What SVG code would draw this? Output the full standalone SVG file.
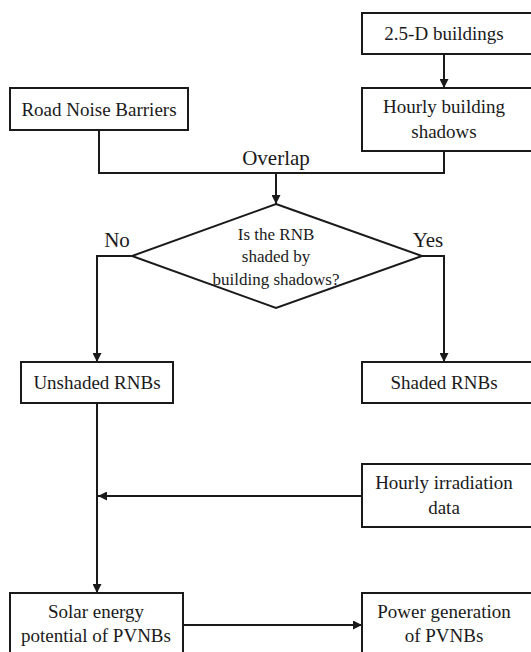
<svg xmlns="http://www.w3.org/2000/svg" width="531" height="652" viewBox="0 0 531 652">
<style>
.box{fill:#fff;stroke:#1a1a1a;stroke-width:2}
.ln{fill:none;stroke:#1a1a1a;stroke-width:2}
text{font-family:"Liberation Serif","Times New Roman",serif;fill:#1a1a1a;text-anchor:middle;font-size:19px}
.d{font-size:17px}
.lab{font-size:21px}
</style>
<defs>
<marker id="ah" viewBox="0 0 10 10" refX="10" refY="5" markerWidth="4.5" markerHeight="4.5" orient="auto" markerUnits="strokeWidth">
<path d="M0,0 L10,5 L0,10 z" fill="#1a1a1a"/>
</marker>
</defs>
<rect width="531" height="652" fill="#fff"/>
<g id="connectors">
<line class="ln" x1="444" y1="54" x2="444" y2="88" marker-end="url(#ah)"/>
<polyline class="ln" points="99,130 99,173 444,173 444,151"/>
<line class="ln" x1="276" y1="173" x2="276" y2="204" marker-end="url(#ah)"/>
<polyline class="ln" points="132,256 97,256 97,362" marker-end="url(#ah)"/>
<polyline class="ln" points="422,256 444,256 444,362" marker-end="url(#ah)"/>
<line class="ln" x1="97" y1="403" x2="97" y2="593" marker-end="url(#ah)"/>
<line class="ln" x1="362" y1="496" x2="98" y2="496" marker-end="url(#ah)"/>
<line class="ln" x1="183" y1="625" x2="362" y2="625" marker-end="url(#ah)"/>
<text class="lab" x="276" y="165">Overlap</text>
<text class="lab" x="117" y="247">No</text>
<text class="lab" x="428" y="247">Yes</text>
</g>
<g id="buildings">
<rect class="box" x="362" y="13" width="174" height="41"/>
<text x="444" y="40">2.5-D buildings</text>
</g>
<g id="rnb">
<rect class="box" x="10" y="88" width="178" height="42"/>
<text x="99" y="116">Road Noise Barriers</text>
</g>
<g id="shadows">
<rect class="box" x="362" y="88" width="174" height="63"/>
<text x="444" y="113">Hourly building</text>
<text x="444" y="138">shadows</text>
</g>
<g id="decision">
<polygon class="box" points="276,204 422,256 276,308 132,256"/>
<text class="d" x="276" y="240">Is the RNB</text>
<text class="d" x="276" y="262">shaded by</text>
<text class="d" x="276" y="285">building shadows?</text>
</g>
<g id="unshaded">
<rect class="box" x="21" y="362" width="152" height="41"/>
<text x="97" y="389">Unshaded RNBs</text>
</g>
<g id="shaded">
<rect class="box" x="362" y="362" width="174" height="41"/>
<text x="444" y="389">Shaded RNBs</text>
</g>
<g id="irradiation">
<rect class="box" x="362" y="464" width="174" height="63"/>
<text x="444" y="489">Hourly irradiation</text>
<text x="444" y="514">data</text>
</g>
<g id="solar">
<rect class="box" x="10" y="593" width="173" height="65"/>
<text x="96" y="618">Solar energy</text>
<text x="96" y="642">potential of PVNBs</text>
</g>
<g id="power">
<rect class="box" x="362" y="593" width="174" height="65"/>
<text x="444" y="618">Power generation</text>
<text x="444" y="642">of PVNBs</text>
</g>
</svg>
